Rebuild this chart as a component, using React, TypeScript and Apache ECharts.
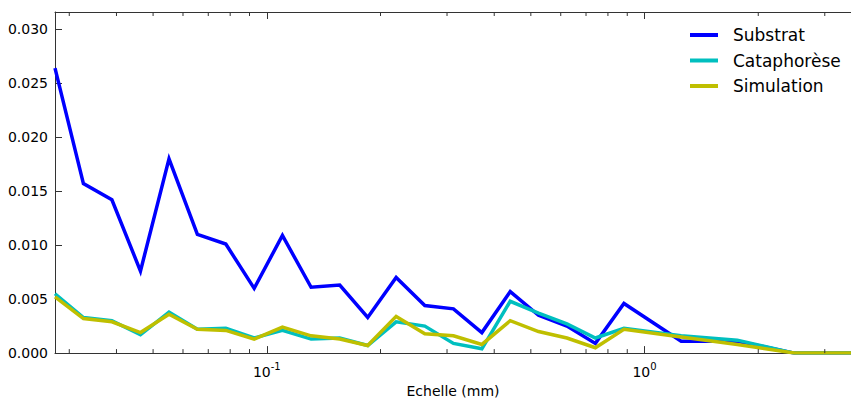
import React, { useEffect, useRef } from "react";
import * as echarts from "echarts";

const scales = [0.0275, 0.0327, 0.0389, 0.0463, 0.0551, 0.0655, 0.0779, 0.0926, 0.110, 0.131, 0.156, 0.185, 0.220, 0.262, 0.312, 0.371, 0.441, 0.524, 0.623, 0.741, 0.882, 1.25, 1.76, 2.49, 3.52];
const substrat = [0.0264, 0.0157, 0.0142, 0.0076, 0.0180, 0.0110, 0.0101, 0.0060, 0.0109, 0.0061, 0.0063, 0.0033, 0.0070, 0.0044, 0.0041, 0.0019, 0.0057, 0.0035, 0.0025, 0.0009, 0.0046, 0.0011, 0.0011, 0.0000, 0.0000];
const cataphorese = [0.0055, 0.0033, 0.0030, 0.0017, 0.0038, 0.0022, 0.0023, 0.0014, 0.0021, 0.0013, 0.0014, 0.0007, 0.0029, 0.0025, 0.0009, 0.0004, 0.0048, 0.0037, 0.0027, 0.0014, 0.0023, 0.0016, 0.0012, 0.0000, 0.0000];
const simulation = [0.0052, 0.0032, 0.0029, 0.0019, 0.0036, 0.0022, 0.0021, 0.0013, 0.0024, 0.0016, 0.0013, 0.0007, 0.0034, 0.0018, 0.0016, 0.0008, 0.0030, 0.0020, 0.0014, 0.0005, 0.0022, 0.0015, 0.0008, 0.0000, 0.0000];
const minorTicks = [0.03, 0.04, 0.05, 0.06, 0.07, 0.08, 0.09, 0.2, 0.3, 0.4, 0.5, 0.6, 0.7, 0.8, 0.9, 2, 3];
const seriesNames = ["Substrat", "Cataphorèse", "Simulation"];
const seriesColors = ["#0000ff", "#00bfbf", "#bfbf00"];

const X_MIN = 0.0275;
const X_MAX = 3.52;
const Y_MAX = 0.0316;
const FONT = "DejaVu Sans";

export default function App() {
  const ref = useRef<HTMLDivElement>(null);
  useEffect(() => {
    if (!ref.current) return;
    const chart = echarts.init(ref.current, null, { renderer: "svg" });
    const mk = (vals: number[]) => scales.map((s, i) => [s, vals[i]]);
    const allVals = [substrat, cataphorese, simulation];
    const xLabel = (v: number) => {
      const lg = Math.log10(v);
      const e = Math.round(lg);
      if (Math.abs(lg - e) > 1e-6) return "";
      return `{b|10}{s|${e}}`;
    };
    const option: any = {
      animation: false,
      backgroundColor: "#ffffff",
      textStyle: { fontFamily: FONT },
      grid: { left: 55, top: 12, width: 804, height: 346.5, containLabel: false },
      legend: {
        orient: "vertical",
        left: 690,
        top: 25,
        padding: 0,
        icon: "rect",
        itemWidth: 28,
        itemHeight: 4,
        itemGap: 5.5,
        data: seriesNames,
        textStyle: { fontFamily: FONT, fontSize: 17, color: "#000", lineHeight: 20, padding: [0, 0, 0, 10] },
      },
      xAxis: [
        {
          type: "log",
          logBase: 10,
          min: X_MIN,
          max: X_MAX,
          position: "bottom",
          name: "Echelle (mm)",
          nameLocation: "middle",
          nameGap: 29,
          nameTextStyle: { fontFamily: FONT, fontSize: 14, color: "#000", verticalAlign: "top" },
          axisLine: { show: true, lineStyle: { color: "#333", width: 1 } },
          axisTick: { show: true, inside: true, length: 7, lineStyle: { color: "#333" } },
          splitLine: { show: false },
          minorTick: { show: false },
          axisLabel: {
            margin: 8,
            showMinLabel: false,
            showMaxLabel: false,
            formatter: xLabel,
            rich: {
              b: { fontFamily: FONT, fontSize: 14, color: "#000", verticalAlign: "bottom", lineHeight: 18 },
              s: { fontFamily: FONT, fontSize: 10, color: "#000", verticalAlign: "top", lineHeight: 18 },
            },
          },
        },
        {
          type: "log",
          logBase: 10,
          min: X_MIN,
          max: X_MAX,
          position: "top",
          axisLine: { show: true, lineStyle: { color: "#333", width: 1 } },
          axisTick: { show: true, inside: true, length: 7, lineStyle: { color: "#333" } },
          axisLabel: { show: false },
          splitLine: { show: false },
        },
      ],
      yAxis: {
        type: "value",
        min: 0,
        max: Y_MAX,
        interval: 0.005,
        axisLine: { show: true, lineStyle: { color: "#333", width: 1 } },
        axisTick: { show: true, inside: true, length: 7, lineStyle: { color: "#333" } },
        splitLine: { show: false },
        axisLabel: {
          margin: 7,
          showMaxLabel: false,
          fontFamily: FONT,
          fontSize: 14,
          color: "#000",
          formatter: (v: number) => v.toFixed(3),
        },
      },
      series: [
        ...seriesNames.map((n, i) => ({
          name: n,
          type: "line",
          xAxisIndex: 0,
          data: mk(allVals[i]),
          showSymbol: false,
          symbol: "none",
          color: seriesColors[i],
          lineStyle: { color: seriesColors[i], width: 3.5, join: "miter" },
          clip: true,
          z: 2 + i,
        })),
        {
          type: "custom",
          name: "minor",
          xAxisIndex: 0,
          data: minorTicks.map((v) => [v, 0]),
          clip: false,
          silent: true,
          z: 10,
          renderItem: (params: any, api: any) => {
            const v = api.value(0);
            const pb = api.coord([v, 0]);
            const pt = api.coord([v, Y_MAX]);
            const st = { stroke: "#333", lineWidth: 1 };
            return {
              type: "group",
              children: [
                { type: "line", shape: { x1: pb[0], y1: pb[1], x2: pb[0], y2: pb[1] - 4 }, style: st },
                { type: "line", shape: { x1: pt[0], y1: pt[1], x2: pt[0], y2: pt[1] + 4 }, style: st },
              ],
            };
          },
        },
      ],
    };
    chart.setOption(option);
    return () => chart.dispose();
  }, []);
  return (
    <div style={{ position: "fixed", left: 0, top: 0, width: 851, height: 403, overflow: "hidden", background: "#fff" }}>
      <div ref={ref} style={{ width: 851, height: 403 }} />
    </div>
  );
}
